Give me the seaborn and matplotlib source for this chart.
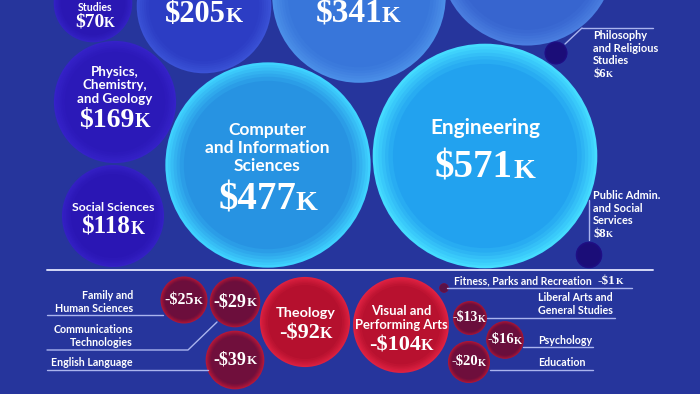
import numpy as np
import pandas as pd
import matplotlib
matplotlib.use("Agg")
import matplotlib.pyplot as plt
import seaborn as sns
from matplotlib.offsetbox import TextArea, HPacker, AnnotationBbox
from matplotlib.colors import to_rgb, to_hex

# ---------------- data ----------------
categories = [
    "Interdisciplinary Studies", "", "", "",
    "Philosophy and Religious Studies", "Physics, Chemistry, and Geology",
    "Social Sciences", "Computer and Information Sciences", "Engineering",
    "Public Admin. and Social Services",
    "Family and Human Sciences", "Communications Technologies", "English Language",
    "Theology", "Visual and Performing Arts", "Fitness, Parks and Recreation",
    "Liberal Arts and General Studies", "Psychology", "Education",
]
values_k = [70, 205, 341, 347, 6, 169, 118, 477, 571, 8,
            -25, -29, -39, -92, -104, -1, -13, -16, -20]

# ---------------- layout (pixel space of a 700x394 canvas) ----------------
bx = [93, 204, 359, 527, 556, 115, 113, 268, 485, 589,
      184, 235, 235, 305, 401, 444, 470, 505, 469]
by = [3, 6, -4, -42, 53, 102, 216, 165, 156, 255,
      300, 302, 360, 322, 325, 288, 318, 340, 362]

# ---------------- style ----------------
BG = "#26359c"
center_cols = ["#2a17b3", "#2c3dc4", "#3876da", "#3765cf", "#1b0d78", "#2b19b8",
               "#2a16b4", "#2793e2", "#22a2ef", "#1b0d78",
               "#6c0e3c", "#6c0e3c", "#700f3c", "#b5102e", "#b8112f", "#5a1248",
               "#6a0e3c", "#6a0e3c", "#6e0e3c"]
rim_cols = ["#3322c4", "#3a52d6", "#4b8fe8", "#4a7ee0", "#22108a", "#3522c8",
            "#3420c4", "#3fd2ff", "#45dcff", "#22108a",
            "#b01636", "#b01636", "#b81838", "#dc2140", "#e02242", "#7a1550",
            "#a81536", "#a81536", "#b01636"]

K = 4.7          # px radius per sqrt($k)
DPI = 100
VMAX = 571
smax = (2 * K * np.sqrt(VMAX) * 72 / DPI) ** 2

sns.set_theme(style="white")
plt.rcParams["font.family"] = ["Lato", "DejaVu Sans"]

fig = plt.figure(figsize=(7.0, 3.94), dpi=DPI)
fig.patch.set_facecolor(BG)
ax = fig.add_axes([0, 0, 1, 1])
ax.set_facecolor(BG)

ids = [f"b{i}" for i in range(len(values_k))]
df = pd.DataFrame({"id": ids, "x": bx, "y": by,
                   "size": [abs(v) for v in values_k]})

# radial shading: draw several layers from rim colour to centre colour
factors = [1.0, 0.975, 0.95, 0.92, 0.89, 0.86, 0.82]
for j, f in enumerate(factors):
    t = j / (len(factors) - 1)
    pal = {}
    for i, key in enumerate(ids):
        c1 = np.array(to_rgb(rim_cols[i]))
        c2 = np.array(to_rgb(center_cols[i]))
        pal[key] = to_hex(c1 * (1 - t) + c2 * t)
    sns.scatterplot(data=df, x="x", y="y", hue="id", palette=pal,
                    size="size", sizes=(0, smax * f * f), size_norm=(0, VMAX),
                    linewidth=0, legend=False, ax=ax, zorder=2 + j)

ax.set_xlim(0, 700)
ax.set_ylim(394, 0)
ax.set_axis_off()

NAME_FONT = dict(color="white", fontfamily=["Lato", "DejaVu Sans"],
                 fontweight="bold")
SERIF = ["Liberation Serif", "DejaVu Serif"]


def value_label(x, y, v, fs, xalign=0.5):
    main = f"-${-v}" if v < 0 else f"${v}"
    ta1 = TextArea(main, textprops=dict(color="white", fontsize=fs,
                                        fontfamily=SERIF, fontweight="bold",
                                        parse_math=False))
    ta2 = TextArea("K", textprops=dict(color="white", fontsize=fs * 0.72,
                                       fontfamily=SERIF, fontweight="bold",
                                       parse_math=False))
    box = HPacker(children=[ta1, ta2], align="baseline", pad=0, sep=0)
    ab = AnnotationBbox(box, (x, y), xycoords="data", frameon=False,
                        box_alignment=(xalign, 0.5), pad=0, zorder=20)
    ax.add_artist(ab)


def name(x, y, s, fs, ha="center"):
    ax.text(x, y, s, fontsize=fs, ha=ha, va="center", linespacing=1.15,
            zorder=20, **NAME_FONT)


# labels inside bubbles
name(95, 1, "Interdisciplinary\nStudies", 7.6)
value_label(95, 22, 70, 14)
value_label(204, 14, 205, 22)
value_label(358, 13, 341, 24)
name(115, 85, "Physics,\nChemistry,\nand Geology", 9.6)
value_label(115, 120, 169, 20)
name(113, 207, "Social Sciences", 8.9)
value_label(113, 227, 118, 18)
name(267, 148, "Computer\nand Information\nSciences", 12.5)
value_label(268, 200, 477, 28)
name(485, 128, "Engineering", 15)
value_label(485, 168, 571, 28)
name(306, 313, "Theology", 10.4)
value_label(306, 333, -92, 16)
name(401, 318, "Visual and\nPerforming Arts", 9.4)
value_label(401, 345, -104, 16)
value_label(184, 300, -25, 11.5)
value_label(235, 302, -29, 13)
value_label(235, 360, -39, 13)
value_label(469, 318, -13, 10)
value_label(505, 340, -16, 10.5)
value_label(469, 362, -20, 10.5)

# labels outside bubbles
name(593, 48, "Philosophy\nand Religious\nStudies", 7.9, ha="left")
value_label(593, 74, 6, 9, xalign=0)
name(593, 208, "Public Admin.\nand Social\nServices", 7.9, ha="left")
value_label(593, 234, 8, 9, xalign=0)
name(133, 302, "Family and\nHuman Sciences", 7.7, ha="right")
name(133, 336, "Communications\nTechnologies", 7.7, ha="right")
name(133, 363, "English Language", 7.7, ha="right")
name(454, 281, "Fitness, Parks and Recreation", 7.6, ha="left")
value_label(598, 281, -1, 9.5, xalign=0)
name(538, 304, "Liberal Arts and\nGeneral Studies", 7.7, ha="left")
name(538, 341, "Psychology", 7.7, ha="left")
name(538, 362, "Education", 7.7, ha="left")

# separator and leader lines
LINE = "#aab4ee"
ax.plot([47, 653], [270, 270], color="#d4d8f6", lw=1.4, zorder=15)
leaders = [
    ([582, 653], [28, 28]), ([565, 582], [44, 28]),
    ([589, 589], [200, 240]),
    ([47, 163], [315, 315]),
    ([47, 188, 217], [350, 350, 322]),
    ([47, 208], [370, 370]),
    ([447, 632], [288, 288]),
    ([487, 615], [318, 318]),
    ([523, 593], [347, 347]),
    ([490, 593], [370, 370]),
]
for xs, ys in leaders:
    ax.plot(xs, ys, color=LINE, lw=1.0, zorder=15)

fig.savefig("out.png", dpi=DPI, facecolor=BG)
